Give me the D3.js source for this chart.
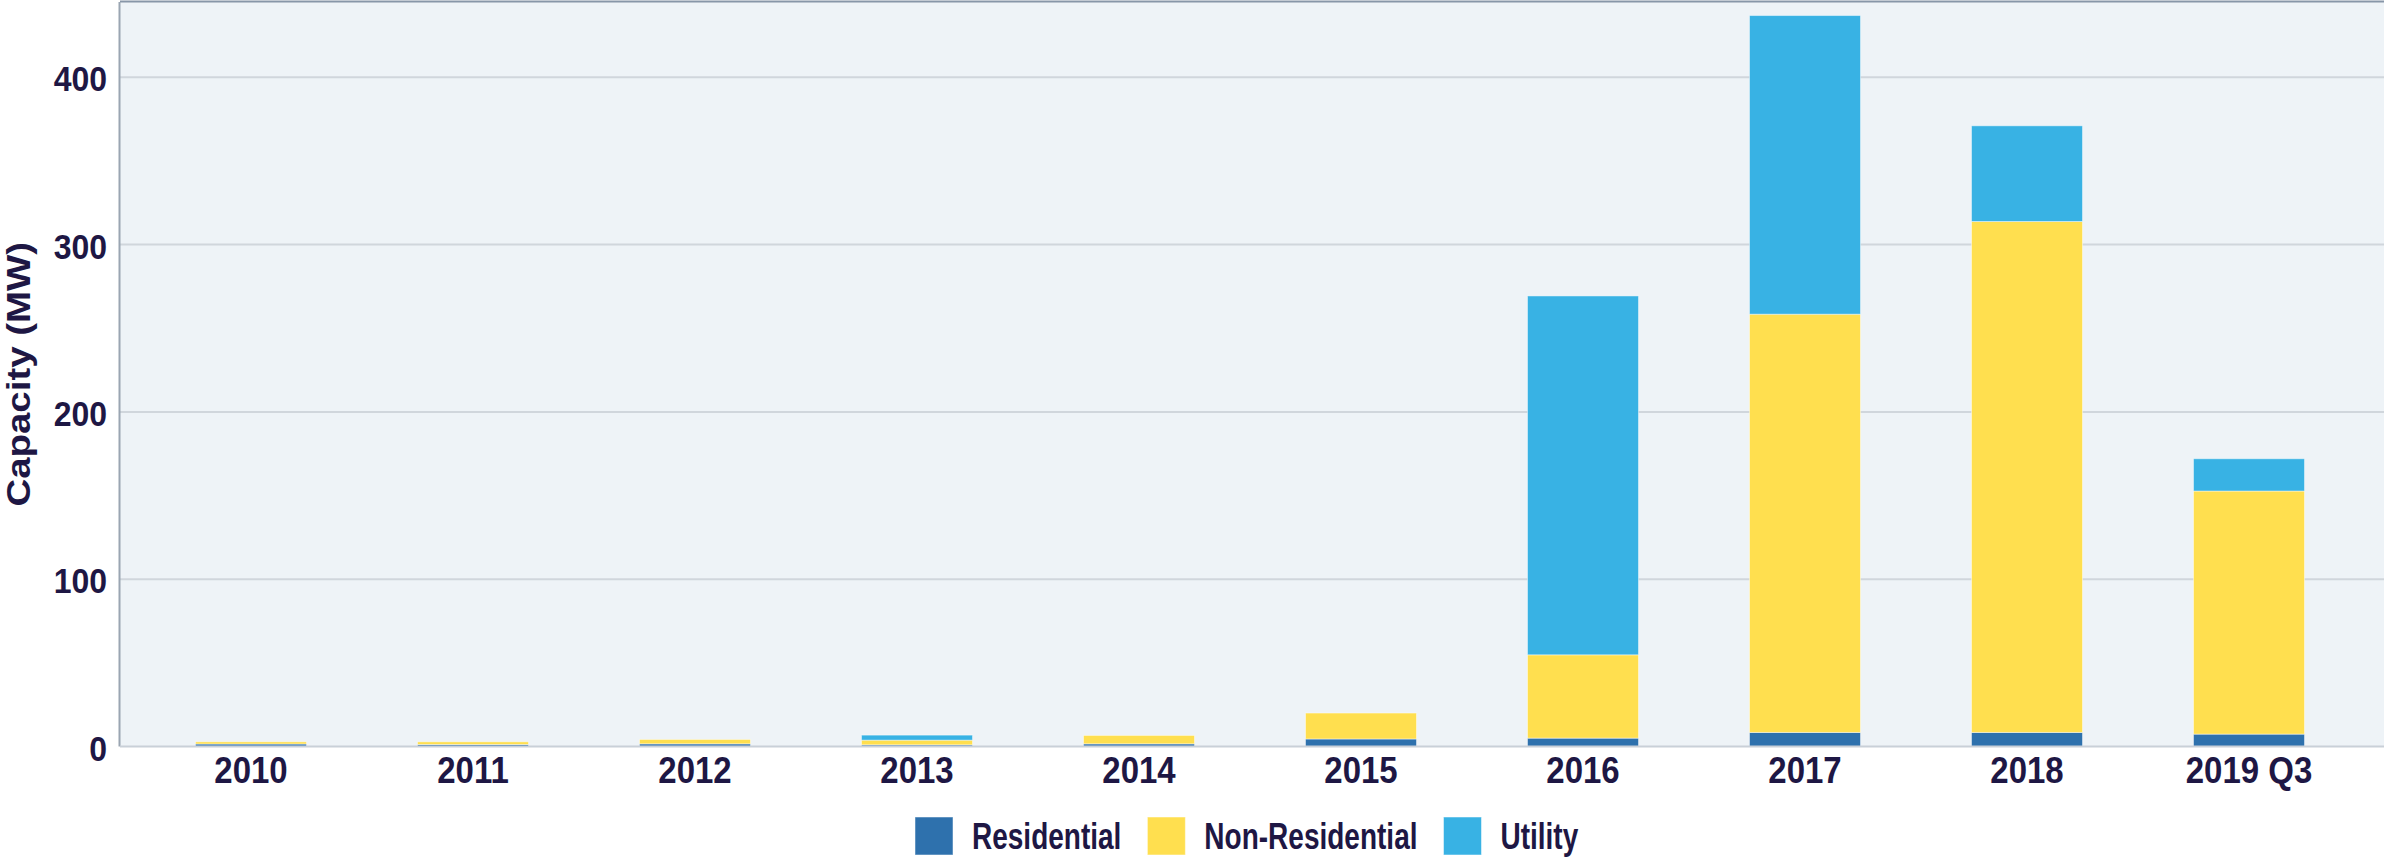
<!DOCTYPE html>
<html lang="en">
<head>
<meta charset="UTF-8">
<title>Capacity (MW)</title>
<script src="https://d3js.org/d3.v7.min.js"></script>
<style>
  body { margin: 0; background: #fff; font-family: "Liberation Sans", Arial, sans-serif; }
  svg text { font-weight: bold; fill: #1e1744; }
</style>
</head>
<body>
<svg width="2384" height="858"></svg>
<script>
const years = ["2010", "2011", "2012", "2013", "2014", "2015", "2016", "2017", "2018", "2019 Q3"];
const residential = [1.5, 1.2, 1.6, 1.0, 1.6, 4.5, 5.0, 8.4, 8.4, 7.4];
const nonResidential = [1.3, 1.6, 2.6, 2.8, 5.0, 15.5, 49.8, 250.0, 305.4, 145.3];
const utility = [0, 0, 0, 3.0, 0, 0, 214.5, 178.5, 57.2, 19.3];
const seriesNames = ["Residential", "Non-Residential", "Utility"];
const seriesColors = ["#2e71ad", "#ffdf4f", "#38b2e4"];
const yTicks = [0, 100, 200, 300, 400];

const rows = years.map((y, i) => ({
    year: y,
    "Residential": residential[i],
    "Non-Residential": nonResidential[i],
    "Utility": utility[i]
}));

const plot = { left: 120, right: 2384, top: 2, bottom: 746.5 };
const svg = d3.select("svg");

const x = d3.scaleBand()
    .domain(years)
    .range([140, 2360])
    .paddingInner(0.5)
    .paddingOuter(0.25);

const y = d3.scaleLinear()
    .domain([0, 445])
    .range([plot.bottom, plot.top]);

const color = d3.scaleOrdinal().domain(seriesNames).range(seriesColors);

// plot background
svg.append("rect")
    .attr("x", plot.left)
    .attr("y", plot.top)
    .attr("width", plot.right - plot.left)
    .attr("height", plot.bottom - plot.top)
    .attr("fill", "#eef3f7");

// gridlines
svg.append("g")
    .selectAll("line")
    .data(yTicks.filter(d => d > 0))
    .join("line")
    .attr("x1", plot.left)
    .attr("x2", plot.right)
    .attr("y1", d => y(d))
    .attr("y2", d => y(d))
    .attr("stroke", "#d0d6dc")
    .attr("stroke-width", 2);

// stacked bars
const stacked = d3.stack().keys(seriesNames)(rows);

svg.append("g")
    .selectAll("g")
    .data(stacked)
    .join("g")
    .attr("fill", d => color(d.key))
    .selectAll("rect")
    .data(d => d.filter(p => p[1] - p[0] > 0))
    .join("rect")
    .attr("x", d => x(d.data.year))
    .attr("y", d => y(d[1]))
    .attr("width", x.bandwidth())
    .attr("height", d => y(d[0]) - y(d[1]))
    .attr("stroke", "rgba(255,255,255,0.45)")
    .attr("stroke-width", 1);

// borders
svg.append("line")
    .attr("x1", plot.left).attr("x2", plot.right)
    .attr("y1", 1.5).attr("y2", 1.5)
    .attr("stroke", "#8796a8").attr("stroke-width", 2);
svg.append("line")
    .attr("x1", plot.left - 0.5).attr("x2", plot.left - 0.5)
    .attr("y1", plot.top).attr("y2", plot.bottom)
    .attr("stroke", "#9aa5b2").attr("stroke-width", 2);

// x axis
const xAxis = svg.append("g")
    .attr("transform", `translate(0,${plot.bottom})`)
    .call(d3.axisBottom(x).tickSize(0));
xAxis.select(".domain")
    .attr("d", `M${plot.left},0H${plot.right}`)
    .attr("stroke", "#c9d0d8")
    .attr("stroke-width", 2);
xAxis.selectAll("text")
    .attr("y", 0)
    .attr("dy", null)
    .attr("transform", "translate(0,36.5) scale(1,1.1)")
    .style("font-size", "33px")
    .style("font-family", "'Liberation Sans', Arial, sans-serif")
    .style("font-weight", "bold")
    .attr("fill", "#1e1744");

// y axis
const yAxis = svg.append("g")
    .attr("transform", `translate(${plot.left},0)`)
    .call(d3.axisLeft(y).tickValues(yTicks).tickSize(0).tickPadding(13));
yAxis.select(".domain").remove();
yAxis.selectAll("text")
    .attr("dy", null)
    .attr("transform", "translate(0,13.5) scale(1,1.08)")
    .style("font-size", "32px")
    .style("font-family", "'Liberation Sans', Arial, sans-serif")
    .style("font-weight", "bold")
    .attr("fill", "#1e1744");

// y title
svg.append("text")
    .attr("transform", `translate(18,${(plot.top + plot.bottom) / 2}) rotate(-90) scale(1.13,1)`)
    .attr("text-anchor", "middle")
    .attr("dy", "0.36em")
    .style("font-size", "34px")
    .text("Capacity (MW)");

// legend
const legend = svg.append("g");
let lx = 915;
seriesNames.forEach((name, i) => {
    legend.append("rect")
        .attr("x", lx)
        .attr("y", 817)
        .attr("width", 38)
        .attr("height", 38)
        .attr("fill", seriesColors[i])
        .attr("stroke", "rgba(255,255,255,0.5)");
    const t = legend.append("text")
        .attr("transform", `translate(${lx + 57},849) scale(1,1.3)`)
        .style("font-size", "28px")
        .text(name);
    lx += 57 + t.node().getComputedTextLength() + 26;
});
</script>
</body>
</html>
